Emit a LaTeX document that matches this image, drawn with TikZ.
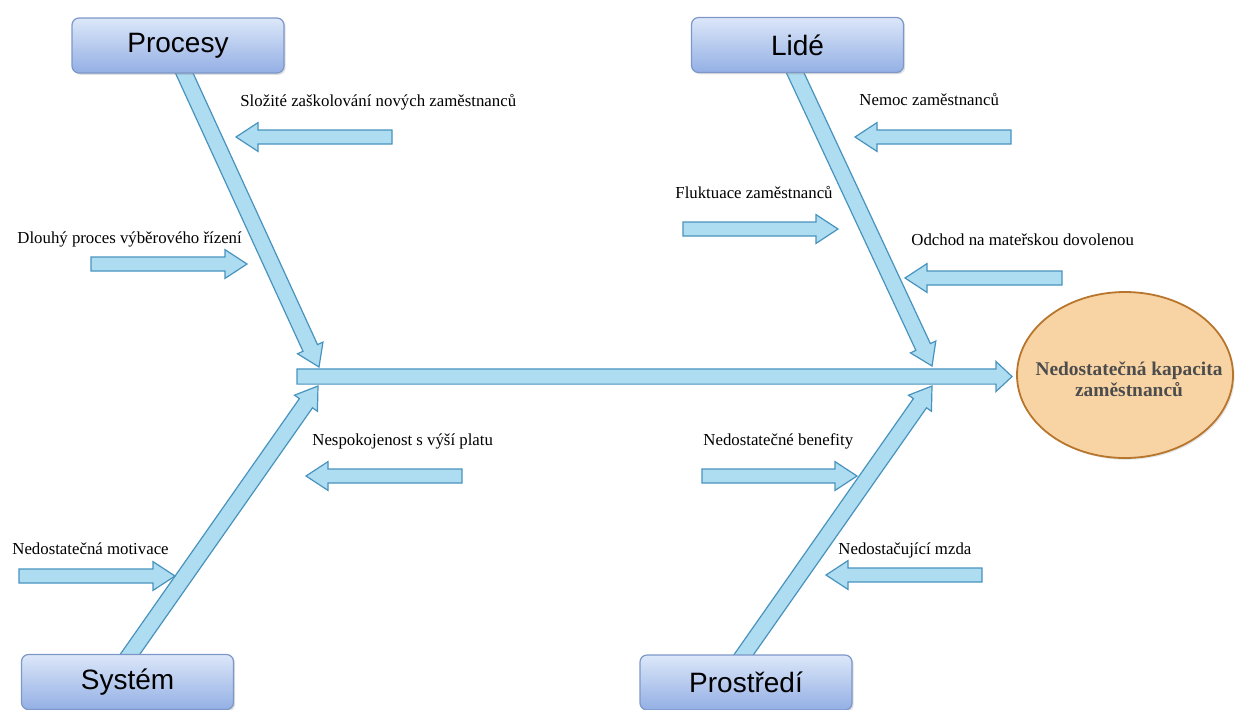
\documentclass[tikz,border=0pt]{standalone}
\usepackage{fontspec}
\setmainfont{Liberation Serif}
\newfontfamily\catfont{Liberation Sans}
\usetikzlibrary{calc,shapes.geometric,shadows}

\definecolor{bonefill}{HTML}{AEDCF0}
\definecolor{bonedraw}{HTML}{4893BE}
\definecolor{cattop}{HTML}{DCE7F9}
\definecolor{catbot}{HTML}{93AFE4}
\definecolor{catdraw}{HTML}{7C97C8}
\definecolor{effectfill}{HTML}{F8D4A5}
\definecolor{effectdraw}{HTML}{B8762C}
\definecolor{effecttext}{HTML}{4C4C4C}

\tikzset{
  blockstyle/.style={fill=bonefill, draw=bonedraw, line width=0.6pt, line join=miter},
  category/.style={rectangle, rounded corners=3.5pt, top color=cattop, bottom color=catbot,
    draw=catdraw, line width=0.6pt, minimum width=106pt, minimum height=27.5pt,
    font=\catfont\fontsize{14}{16}\selectfont, text=black,
    drop shadow={shadow xshift=0.8pt, shadow yshift=-0.9pt, opacity=0.25}},
  cause/.style={anchor=base west, inner sep=0pt, font=\fontsize{8.4}{10}\selectfont, text=black},
  effectshape/.style={fill=effectfill, draw=effectdraw, line width=0.9pt,
    drop shadow={shadow xshift=0.8pt, shadow yshift=-0.9pt, opacity=0.2}},
  effect/.style={inner sep=0pt, align=center,
    font=\bfseries\fontsize{9.7}{10.6}\selectfont, text=effecttext}
}

% block arrow from #2 to #3: shaft half width #4, head half width #5, head length #6
\newcommand{\blockarrow}[6][]{%
  \coordinate (ba-h) at ($(#3)!#6!(#2)$);
  \draw[blockstyle,#1]
    ($(#2)!#4!90:(#3)$) -- ($(ba-h)!#4!90:(#3)$) -- ($(ba-h)!#5!90:(#3)$) -- (#3)
    -- ($(ba-h)!#5!-90:(#3)$) -- ($(ba-h)!#4!-90:(#3)$) -- ($(#2)!#4!-90:(#3)$) -- cycle;
}
\newcommand{\causearrow}[2]{\blockarrow{#1}{#2}{3.5pt}{7.2pt}{11pt}}

\begin{document}
\begin{tikzpicture}[x=0.5pt,y=-0.5pt]
  \useasboundingbox (0,0) rectangle (1235,709);
  \clip (0,0) rectangle (1235,709);

  % spine and main bones
  \coordinate (spine-s) at (297,376.5);
  \coordinate (spine-e) at (1012,376.5);
  \coordinate (proc-s) at (181,66);
  \coordinate (proc-e) at (319,367);
  \coordinate (lide-s) at (792,66);
  \coordinate (lide-e) at (932,366);
  \coordinate (sys-s) at (126,660);
  \coordinate (sys-e) at (318,386);
  \coordinate (prost-s) at (740,660);
  \coordinate (prost-e) at (932,386);

  \blockarrow{proc-s}{proc-e}{4pt}{7pt}{10.5pt}
  \blockarrow{lide-s}{lide-e}{4pt}{7pt}{10.5pt}
  \blockarrow{sys-s}{sys-e}{4pt}{7pt}{10.5pt}
  \blockarrow{prost-s}{prost-e}{4pt}{7pt}{10.5pt}
  \blockarrow{spine-s}{spine-e}{3.8pt}{7.5pt}{8pt}

  % categories
  \node[category] (procesy) at (178,45.5) {Procesy};
  \node[category] (lide) at (797.5,45) {Lidé};
  \node[category] (system) at (127.5,682) {Systém};
  \node[category] (prostredi) at (746,682.5) {Prostředí};

  % effect
  \coordinate (effect-c) at (1125,375);
  \path[effectshape] (effect-c) ellipse [x radius=54pt, y radius=41.5pt];
  \node[effect] (effect) at (1129,379) {Nedostatečná kapacita\\zaměstnanců};

  % causes: arrows
  \coordinate (c1-t) at (392,137);  \coordinate (c1-h) at (236,137);
  \coordinate (c2-t) at (91,264);   \coordinate (c2-h) at (247,264);
  \coordinate (c3-t) at (1011,137); \coordinate (c3-h) at (855,137);
  \coordinate (c4-t) at (683,229);  \coordinate (c4-h) at (838,229);
  \coordinate (c5-t) at (1062,278); \coordinate (c5-h) at (905,278);
  \coordinate (c6-t) at (462,476);  \coordinate (c6-h) at (306,476);
  \coordinate (c7-t) at (702,476);  \coordinate (c7-h) at (857,476);
  \coordinate (c8-t) at (19,576);   \coordinate (c8-h) at (175,576);
  \coordinate (c9-t) at (982,575);  \coordinate (c9-h) at (826,575);
  \causearrow{c1-t}{c1-h}
  \causearrow{c2-t}{c2-h}
  \causearrow{c3-t}{c3-h}
  \causearrow{c4-t}{c4-h}
  \causearrow{c5-t}{c5-h}
  \causearrow{c6-t}{c6-h}
  \causearrow{c7-t}{c7-h}
  \causearrow{c8-t}{c8-h}
  \causearrow{c9-t}{c9-h}

  % causes: labels
  \node[cause] (l1) at (240,106) {Složité zaškolování nových zaměstnanců};
  \node[cause] (l2) at (17,243) {Dlouhý proces výběrového řízení};
  \node[cause] (l3) at (859,105) {Nemoc zaměstnanců};
  \node[cause] (l4) at (675,198) {Fluktuace zaměstnanců};
  \node[cause] (l5) at (911,245) {Odchod na mateřskou dovolenou};
  \node[cause] (l6) at (312,445) {Nespokojenost s výší platu};
  \node[cause] (l7) at (703,445) {Nedostatečné benefity};
  \node[cause] (l8) at (12,554) {Nedostatečná motivace};
  \node[cause] (l9) at (838,554) {Nedostačující mzda};
\end{tikzpicture}
\end{document}
